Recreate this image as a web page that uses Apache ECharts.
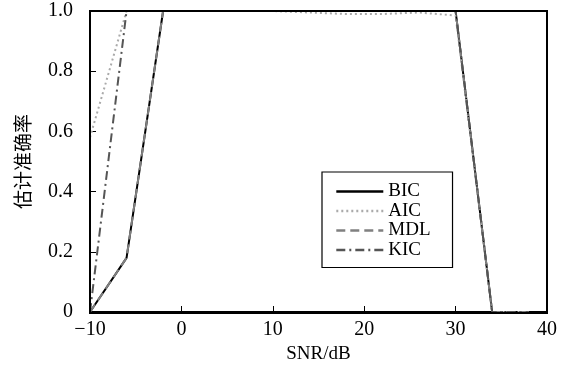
<!DOCTYPE html>
<html>
<head>
<meta charset="utf-8">
<script src="https://cdn.jsdelivr.net/npm/echarts@6/dist/echarts.min.js"></script>
<style>
  html, body { margin: 0; padding: 0; background: #fff; }
  #chart { width: 571px; height: 369px; }
</style>
</head>
<body>
<div id="chart"></div>
<script>
// SNR values (dB)
const snr = [-10, -6, -2, 2, 6, 10, 14, 18, 22, 26, 30, 34, 38];

// Estimation accuracy for each criterion
const bic = [0, 0.18, 1, 1, 1, 1, 1, 1, 1, 1, 1, 0, 0];
const aic = [0.58, 1, 1, 1, 1, 1, 0.995, 0.99, 0.99, 0.995, 0.985, 0, 0];
const mdl = [0, 0.18, 1, 1, 1, 1, 1, 1, 1, 1, 1, 0, 0];
const kic = [0, 1, 1, 1, 1, 1, 1, 1, 1, 1, 1, 0, 0];

const yTicks = [0, 0.2, 0.4, 0.6, 0.8, 1.0];

const serif = "'Liberation Serif', 'Times New Roman', serif";

const chart = echarts.init(document.getElementById("chart"));

const pair = (ys) => snr.map((x, i) => [x, ys[i]]);

const mkSeries = (name, ys, color, type, width) => ({
  name: name,
  type: "line",
  data: pair(ys),
  symbol: "none",
  lineStyle: { color: color, type: type, width: width },
  itemStyle: { color: color },
});

const option = {
  animation: false,
  backgroundColor: "#fff",
  grid: { left: 90, right: 24, top: 11, bottom: 56 },
  legend: {
    orient: "vertical",
    left: 322,
    top: 172,
    padding: [10, 22, 8, 13],
    itemGap: 0.5,
    itemWidth: 47,
    itemHeight: 19,
    borderColor: "#000",
    borderWidth: 1.2,
    borderRadius: 0,
    backgroundColor: "#fff",
    itemStyle: { opacity: 0 },
    lineStyle: { width: 2.6 },
    textStyle: { fontFamily: serif, fontSize: 19, lineHeight: 19, color: "#000" },
    data: ["BIC", "AIC", "MDL", "KIC"],
  },
  xAxis: {
    type: "value",
    min: -10,
    max: 40,
    interval: 10,
    name: "SNR/dB",
    nameLocation: "middle",
    nameGap: 33,
    nameTextStyle: { fontFamily: serif, fontSize: 19, color: "#000" },
    axisLine: { show: true, onZero: false, lineStyle: { color: "#000", width: 2 } },
    axisTick: { show: true, inside: true, length: 6, lineStyle: { color: "#000", width: 1 } },
    axisLabel: {
      fontFamily: serif,
      fontSize: 20,
      color: "#000",
      margin: 8,
      formatter: (v) => (v < 0 ? "\u2212" + Math.abs(v) : String(v)),
    },
    splitLine: { show: false },
  },
  yAxis: {
    type: "value",
    min: 0,
    max: 1,
    interval: 0.2,
    name: "估计准确率",
    nameLocation: "middle",
    nameGap: 58,
    nameRotate: 90,
    nameTextStyle: { fontFamily: "'Noto Sans CJK SC', sans-serif", fontSize: 19, color: "#000" },
    axisLine: { show: true, onZero: false, lineStyle: { color: "#000", width: 2 } },
    axisTick: { show: true, inside: true, length: 6, lineStyle: { color: "#000", width: 1 } },
    axisLabel: {
      fontFamily: serif,
      fontSize: 20,
      color: "#000",
      margin: 17,
      formatter: (v) => {
        const t = yTicks.find((y) => Math.abs(y - v) < 1e-9);
        return t === 0 ? "0" : v.toFixed(1);
      },
    },
    splitLine: { show: false },
  },
  series: [
    mkSeries("BIC", bic, "#000000", "solid", 2),
    mkSeries("AIC", aic, "#aaaaaa", [2, 3], 2),
    mkSeries("MDL", mdl, "#808080", [9, 5], 2),
    mkSeries("KIC", kic, "#555555", [9, 4, 2, 4], 2),
  ],
  graphic: [
    // top and right frame lines
    {
      type: "rect",
      shape: { x: 90, y: 11, width: 457, height: 302 },
      style: { fill: "none", stroke: "#000", lineWidth: 2 },
      silent: true,
      z: 10,
    },
  ],
};

chart.setOption(option);
</script>
</body>
</html>
